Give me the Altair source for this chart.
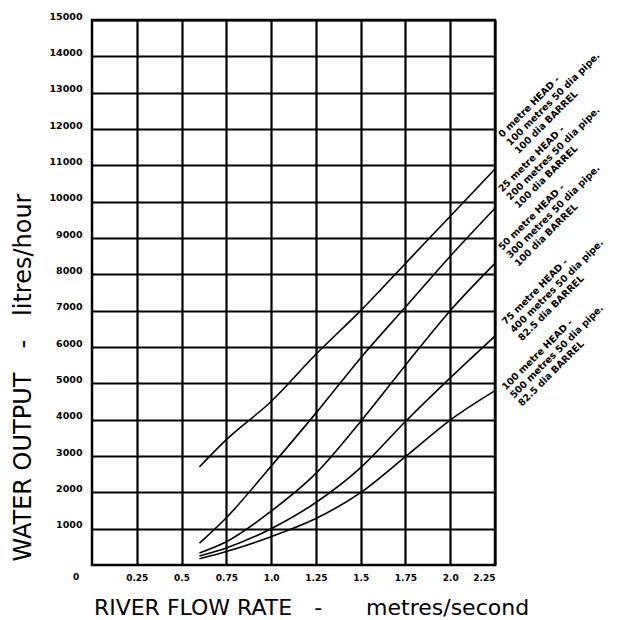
import altair as alt
import pandas as pd

# ---- data ----
flow = [0.6, 0.75, 1.0, 1.25, 1.5, 1.75, 2.0, 2.25]
curve_0m = [2700, 3450, 4500, 5800, 7000, 8300, 9600, 10900]
curve_25m = [600, 1300, 2720, 4180, 5700, 7100, 8500, 9820]
curve_50m = [330, 640, 1480, 2520, 3950, 5500, 7000, 8300]
curve_75m = [250, 470, 1000, 1720, 2680, 3950, 5150, 6300]
curve_100m = [170, 370, 780, 1280, 1990, 2980, 3990, 4800]

series_names = ["0 m", "25 m", "50 m", "75 m", "100 m"]
series_values = [curve_0m, curve_25m, curve_50m, curve_75m, curve_100m]

label_lines = [
    ["0 metre HEAD -", "100 metres 50 dia pipe.", "100 dia BARREL"],
    ["25 metre HEAD -", "200 metres 50 dia pipe.", "100 dia BARREL"],
    ["50 metre HEAD -", "300 metres 50 dia pipe.", "100 dia BARREL"],
    ["75 metre HEAD -", "400 metres 50 dia pipe.", "82.5 dia BARREL"],
    ["100 metre HEAD -", "500 metres 50 dia pipe.", "82.5 dia BARREL"],
]
label_x = [2.29, 2.29, 2.29, 2.31, 2.31]
label_y = [11750, 10250, 8650, 6600, 4800]

x_ticks = [0.25, 0.5, 0.75, 1.0, 1.25, 1.5, 1.75, 2.0, 2.25]
y_ticks = list(range(1000, 15001, 1000))

rows = []
for name, vals in zip(series_names, series_values):
    for xv, yv in zip(flow, vals):
        rows.append({"series": name, "flow": xv, "output": yv})
curves_df = pd.DataFrame(rows)

labels_df = pd.DataFrame({
    "flow": label_x,
    "output": label_y,
    "text": ["\n".join(l) for l in label_lines],
})

zero_df = pd.DataFrame({"flow": [0], "output": [0], "text": ["0"]})

x_scale = alt.Scale(domain=[0, 2.25], nice=False, zero=True)
y_scale = alt.Scale(domain=[0, 15000], nice=False)

tick_font = "DejaVu Sans"
title_font = "DejaVu Sans"

x_axis = alt.Axis(
    values=x_ticks,
    tickCount=20,
    format=".2~f",
    labelExpr="datum.value == 1 ? '1.0' : datum.value == 2 ? '2.0' : datum.label",
    title="RIVER FLOW RATE\u2003-\u2003\u2003metres/second",
    titleFont=title_font, titleFontSize=22, titleFontWeight="normal", titleColor="black",
    titleX=219, titleY=42, titleAlign="center", titleBaseline="middle", titleAnchor="start",
    labelFont=tick_font, labelFontSize=9, labelFontWeight="bold", labelColor="black",
    labelPadding=8, labelAngle=0, labelOverlap=False,
    ticks=False, domain=False,
    grid=True, gridColor="black", gridWidth=2.2, gridOpacity=1,
)
y_axis = alt.Axis(
    values=y_ticks,
    tickCount=30,
    format="d",
    title="WATER OUTPUT\u2003-\u2003litres/hour",
    titleFont=title_font, titleFontSize=24, titleFontWeight="normal", titleColor="black",
    titleX=-62, titleY=357, titleAngle=270, titleAlign="center", titleBaseline="alphabetic",
    titleAnchor="start",
    labelFont=tick_font, labelFontSize=9.5, labelFontWeight="bold", labelColor="black",
    labelPadding=10, labelOffset=-4, labelOverlap=False,
    ticks=False, domain=False,
    grid=True, gridColor="black", gridWidth=2.2, gridOpacity=1,
)

lines = alt.Chart(curves_df).mark_line(
    color="black", strokeWidth=1.6, interpolate="monotone"
).encode(
    x=alt.X("flow:Q", scale=x_scale, axis=x_axis),
    y=alt.Y("output:Q", scale=y_scale, axis=y_axis),
    detail="series:N",
)

labels = alt.Chart(labels_df).mark_text(
    angle=315, align="left", baseline="alphabetic", lineBreak="\n",
    font=tick_font, fontSize=9.5, fontWeight="bold", lineHeight=11.5, color="black",
).encode(
    x=alt.X("flow:Q", scale=x_scale),
    y=alt.Y("output:Q", scale=y_scale),
    text="text:N",
)

zero = alt.Chart(zero_df).mark_text(
    dx=-16, dy=12, align="center", baseline="middle",
    font=tick_font, fontSize=9, fontWeight="bold", color="black",
).encode(
    x=alt.X("flow:Q", scale=x_scale),
    y=alt.Y("output:Q", scale=y_scale),
    text="text:N",
)

chart = alt.layer(lines, labels, zero).properties(
    width=403,
    height=545,
    autosize=alt.AutoSizeParams(type="none"),
    padding={"left": 84, "top": 12, "right": 117, "bottom": 56},
    background="white",
).configure_view(
    stroke="black", strokeWidth=2.5,
)

chart.save("out.html", embed_options={"renderer": "svg", "actions": False})
